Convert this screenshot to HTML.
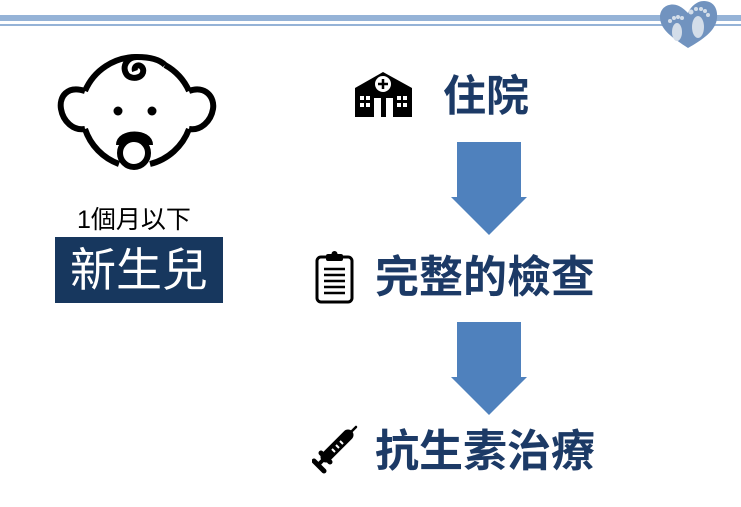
<!DOCTYPE html>
<html><head><meta charset="utf-8"><style>
html,body{margin:0;padding:0;background:#fff;}
body{width:741px;height:507px;position:relative;overflow:hidden;font-family:"Liberation Sans","Noto Sans CJK TC",sans-serif;}
.abs{position:absolute;}
.t{color:#1c3a66;font-weight:bold;white-space:nowrap;line-height:1;}
</style></head><body>
<div class="abs" style="left:0;top:15px;width:741px;height:6px;background:#95b3d7"></div>
<div class="abs" style="left:0;top:24px;width:741px;height:2px;background:#95b3d7"></div>
<svg class="abs" style="left:657px;top:0" width="62" height="50" viewBox="0 0 62 50">
<path d="M31 48 C16 38 3 30 3 17 C3 6 14 2 22 6 C26 8 29 11 31 13 C33 8 39 1 47 1 C56 1 61 8 60 18 C59 31 45 40 31 48Z" fill="#7193bf"/>
<ellipse cx="20" cy="32" rx="5" ry="9" fill="#d3dde9"/>
<ellipse cx="41" cy="27" rx="6" ry="11" fill="#d3dde9"/>
<circle cx="13" cy="21" r="2" fill="#d3dde9"/><circle cx="17" cy="18" r="2" fill="#d3dde9"/><circle cx="21" cy="17" r="2" fill="#d3dde9"/><circle cx="25" cy="18" r="2" fill="#d3dde9"/>
<circle cx="34" cy="12" r="2.5" fill="#d3dde9"/><circle cx="39" cy="9" r="2" fill="#d3dde9"/><circle cx="44" cy="9" r="2" fill="#d3dde9"/><circle cx="48" cy="11" r="2" fill="#d3dde9"/><circle cx="51" cy="15" r="2" fill="#d3dde9"/>
</svg>
<svg class="abs" style="left:55px;top:45px" width="165" height="135" viewBox="0 0 165 135">
<g fill="none" stroke="#000" stroke-width="6">
<path d="M30 46 A56 56 0 0 1 82 12 M110 20 A56 56 0 0 1 134 46 M134 84 A56 56 0 0 1 95 119 M64 119 A56 56 0 0 1 30 84"/>
<path d="M30 46 C12 40 4 52 6 64 C8 76 18 86 30 84"/>
<path d="M134 46 C150 40 160 52 158 64 C156 76 146 86 134 84"/>
<path d="M82 12 C72 12 66 22 72 30 C78 36 90 32 88 24 C86 18 78 20 80 26"/>
<path d="M82 12 C94 12 104 14 110 20"/>
<path d="M64 100 C64 86 95 86 95 100"/>
<circle cx="79" cy="108" r="14"/>
</g>
<circle cx="63" cy="66" r="4.5"/><circle cx="97" cy="66" r="4.5"/>
</svg>
<div class="abs" style="left:77px;top:208px;font-size:25px;color:#000;line-height:1;white-space:nowrap">1個月以下</div>
<div class="abs" style="left:55px;top:237px;width:168px;height:66px;background:#17375e;color:#fff;font-size:46px;line-height:66px;text-align:center">新生兒</div>
<svg class="abs" style="left:355px;top:72px" width="57" height="45" viewBox="0 0 57 45">
<path d="M0 16 L28 0 L57 16 L57 45 L0 45Z" fill="#000"/>
<circle cx="28" cy="12" r="8" fill="#fff"/><path d="M28 7v10M23 12h10" stroke="#000" stroke-width="2.5"/>
<g fill="#fff"><rect x="5" y="24" width="4" height="4"/><rect x="11" y="24" width="4" height="4"/><rect x="5" y="31" width="4" height="4"/><rect x="11" y="31" width="4" height="4"/>
<rect x="42" y="24" width="4" height="4"/><rect x="48" y="24" width="4" height="4"/><rect x="42" y="31" width="4" height="4"/><rect x="48" y="31" width="4" height="4"/>
<rect x="19" y="26" width="7" height="19"/><rect x="31" y="26" width="7" height="19"/></g>
</svg>
<div class="abs t" style="left:443px;top:76px;font-size:43px;">住院</div>
<svg class="abs" style="left:450px;top:141px" width="80" height="96"><path d="M7 1H71V56H77L39 94L1 56H7Z" fill="#4f81bd"/></svg>
<svg class="abs" style="left:315px;top:251px" width="40" height="53" viewBox="0 0 40 53">
<rect x="2" y="6" width="35" height="45" rx="4" fill="none" stroke="#000" stroke-width="3"/>
<rect x="11" y="3" width="17" height="7" rx="2" fill="#000"/><circle cx="19.5" cy="3" r="3" fill="#000"/>
<path d="M9 18h21M9 24h21M9 30h21M9 36h21M9 42h21" stroke="#000" stroke-width="2.5"/>
</svg>
<div class="abs t" style="left:375px;top:256px;font-size:44px">完整的檢查</div>
<svg class="abs" style="left:450px;top:321px" width="80" height="96"><path d="M7 1H71V56H77L39 94L1 56H7Z" fill="#4f81bd"/></svg>
<svg class="abs" style="left:312px;top:425px" width="46" height="50" viewBox="0 0 46 50">
<g stroke="#000" stroke-linecap="round">
<path d="M44 2 L34 12" stroke-width="2.5"/>
<path d="M36 10 L14 32" stroke-width="11"/>
<path d="M14 32 L6 40" stroke-width="4"/>
<path d="M2 36 L12 46" stroke-width="5"/>
<path d="M9 28 L18 37" stroke-width="5"/>
</g>
<path d="M20 24l3 3M24 20l3 3M28 16l3 3" stroke="#fff" stroke-width="2"/>
</svg>
<div class="abs t" style="left:375px;top:430px;font-size:44px">抗生素治療</div>
</body></html>
